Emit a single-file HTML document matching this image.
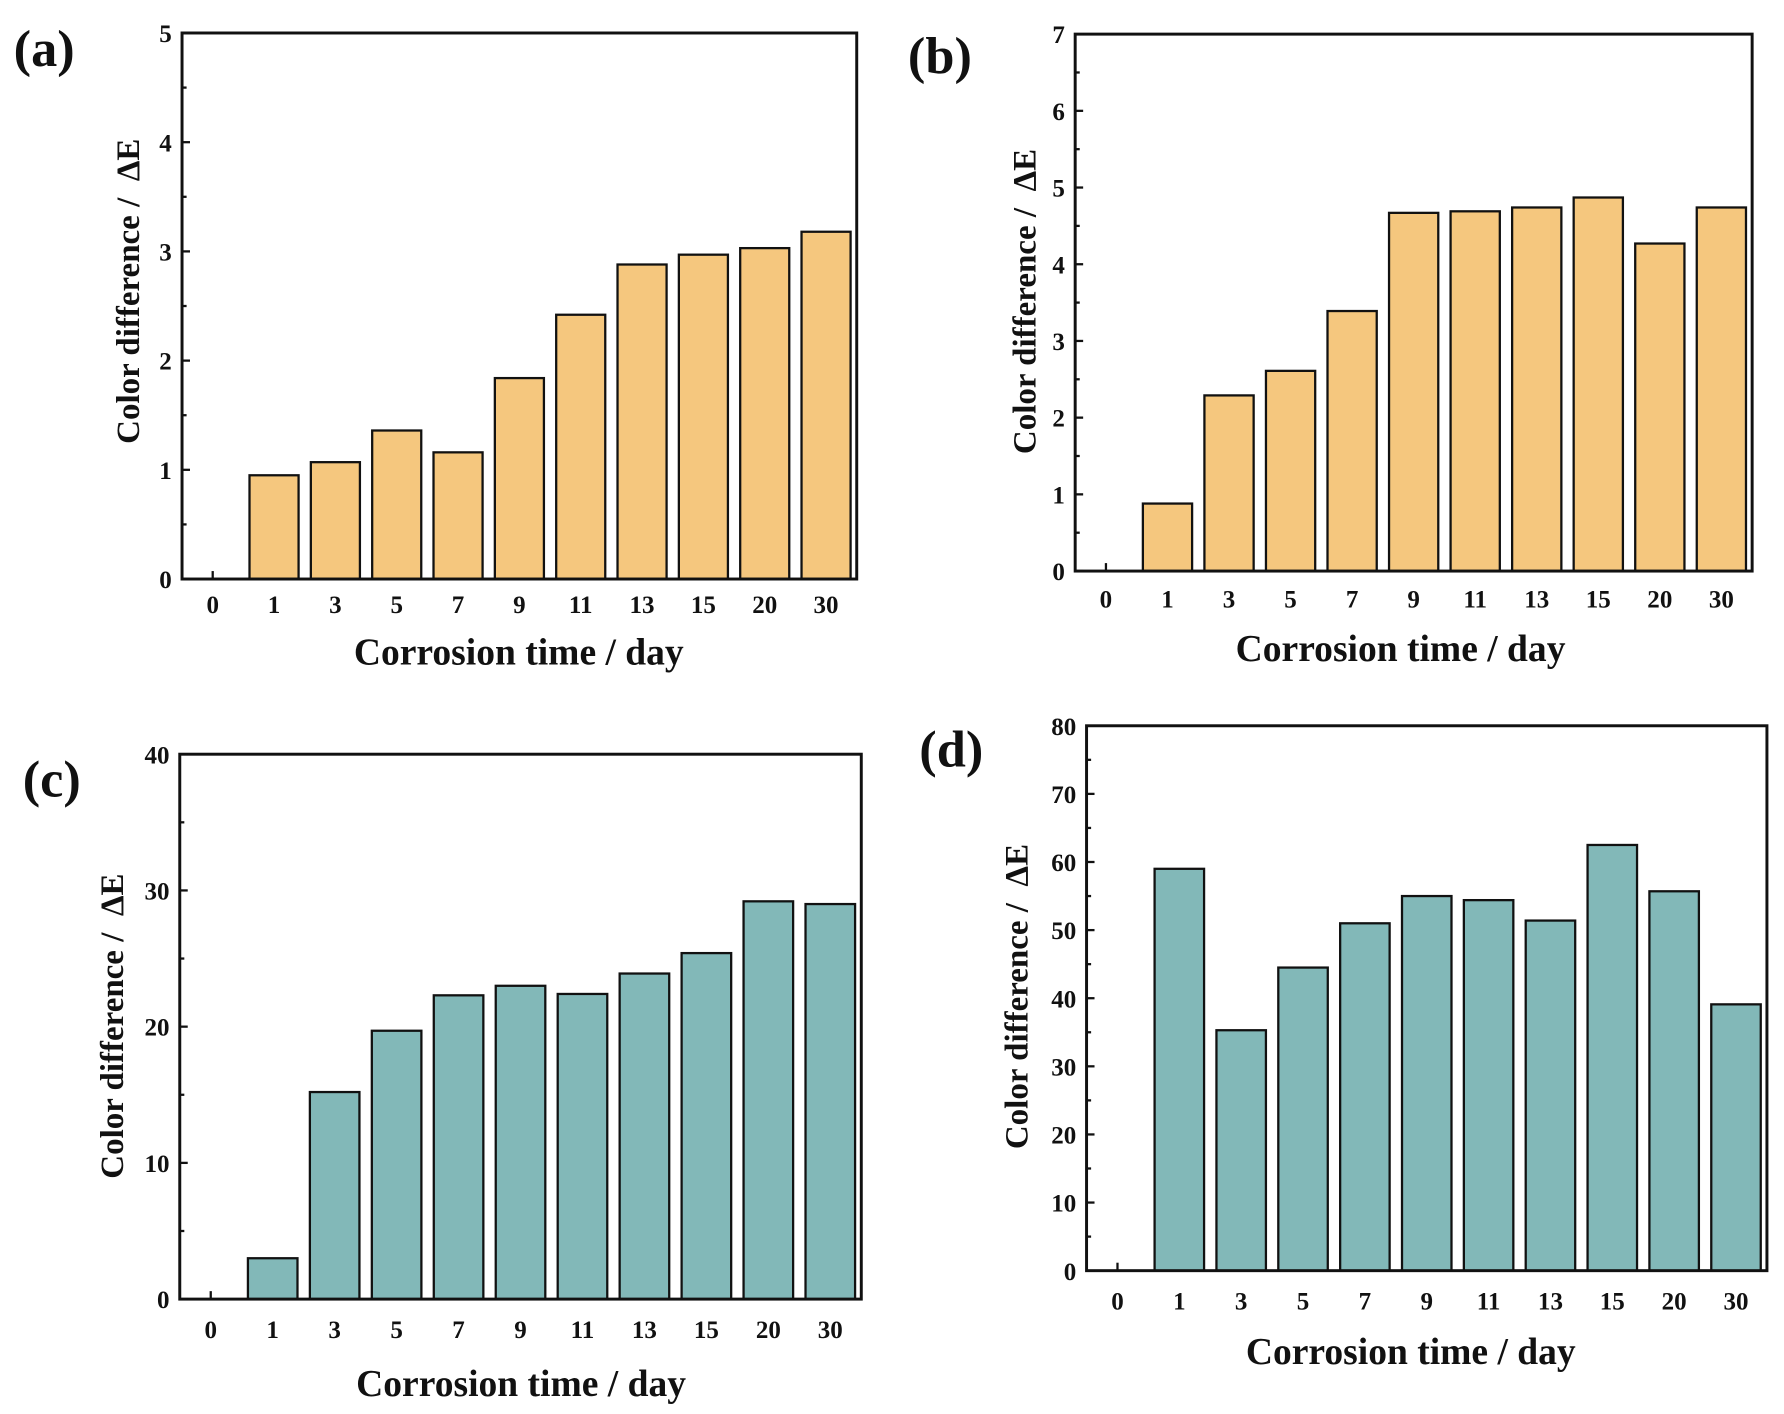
<!DOCTYPE html>
<html><head><meta charset="utf-8"><style>
html,body{margin:0;padding:0;background:#fff;}
svg{display:block;}
text{font-family:"Liberation Serif",serif;font-weight:bold;fill:#111;white-space:pre;}
</style></head><body>
<svg id="fig" width="1784" height="1414" viewBox="0 0 1568 1243" preserveAspectRatio="none" xmlns="http://www.w3.org/2000/svg"></svg>
<script>
const categories = ["0","1","3","5","7","9","11","13","15","20","30"];
const valuesA = [0,0.95,1.07,1.36,1.16,1.84,2.42,2.88,2.97,3.03,3.18];
const valuesB = [0,0.88,2.29,2.61,3.39,4.67,4.69,4.74,4.87,4.27,4.74];
const valuesC = [0,3.0,15.2,19.7,22.3,23.0,22.4,23.9,25.4,29.2,29.0];
const valuesD = [0,59,35.3,44.5,51,55,54.4,51.4,62.5,55.7,39.1];
const ticksA = [0,1,2,3,4,5];
const ticksB = [0,1,2,3,4,5,6,7];
const ticksC = [0,10,20,30,40];
const ticksD = [0,10,20,30,40,50,60,70,80];

const NS="http://www.w3.org/2000/svg";
const svg=document.getElementById('fig');
function mk(tag,attrs,parent){const e=document.createElementNS(NS,tag);for(const k in attrs)e.setAttribute(k,attrs[k]);(parent||svg).appendChild(e);return e;}

function panel(id,box,vals,ticks,color,lab){
  const g=mk('g',{});
  
  
  const {l,r,t,b,lx,ly,ytx,yty,xtx,xty,tly}=box;
  const ymax=ticks[ticks.length-1];
  const y=v=>b-(v/ymax)*(b-t);
  const band=(r-l)/categories.length;
  const xc=i=>l+band*(i+0.5);
  const bw=band*0.8;
  vals.forEach((v,i)=>{
    if(v<=0){
      const tk=mk('line',{x1:xc(i),x2:xc(i),y1:b,y2:b-7,stroke:'#111','stroke-width':2},g);
      
      
      return;
    }
    const rc=mk('rect',{x:xc(i)-bw/2,y:y(v),width:bw,height:b-y(v),fill:color,stroke:'#111','stroke-width':2},g);
    
    
  });
  const fr=mk('rect',{x:l,y:t,width:r-l,height:b-t,fill:'none',stroke:'#111','stroke-width':2.6},g);
  
  
  ticks.forEach((tv,i)=>{
    const tk=mk('line',{x1:l,x2:l+7,y1:y(tv),y2:y(tv),stroke:'#111','stroke-width':2},g);
    
    
    if(i<ticks.length-1){
      const mv=(tv+ticks[i+1])/2;
      const mt=mk('line',{x1:l,x2:l+4,y1:y(mv),y2:y(mv),stroke:'#111','stroke-width':2},g);
      
      
    }
    const tx=mk('text',{x:l-9,y:y(tv)+8,'text-anchor':'end','font-size':22},g);
    tx.textContent=tv;
    
    
  });
  categories.forEach((c,i)=>{
    const tx=mk('text',{x:xc(i),y:tly,'text-anchor':'middle','font-size':22},g);
    tx.textContent=c;
    
    
  });
  const xt=mk('text',{x:xtx,y:xty,'text-anchor':'middle','font-size':33},g);
  xt.textContent='Corrosion time / day';
  
  
  const yt=mk('text',{x:0,y:0,'text-anchor':'middle','font-size':29,transform:`translate(${ytx},${yty}) rotate(-90)`},g);
  yt.textContent='Color difference /  \u0394E';
  
  
  const pl=mk('text',{x:lx,y:ly,'font-size':46},g);
  pl.textContent=lab;
  
  
}
panel('a',{l:160,r:753,t:29,b:509,lx:12,ly:58,ytx:122,yty:256,xtx:456,xty:584,tly:539},valuesA,ticksA,'#F5C77E','(a)');
panel('b',{l:945,r:1540,t:30,b:502,lx:798,ly:64,ytx:910,yty:265,xtx:1231,xty:581,tly:534},valuesB,ticksB,'#F5C77E','(b)');
panel('c',{l:158,r:757,t:663,b:1142,lx:20,ly:700,ytx:108,yty:902,xtx:458,xty:1227,tly:1176},valuesC,ticksC,'#82B8B8','(c)');
panel('d',{l:955,r:1553,t:638,b:1117,lx:808,ly:674,ytx:903,yty:876,xtx:1240,xty:1199,tly:1151},valuesD,ticksD,'#82B8B8','(d)');
</script>
</body></html>
